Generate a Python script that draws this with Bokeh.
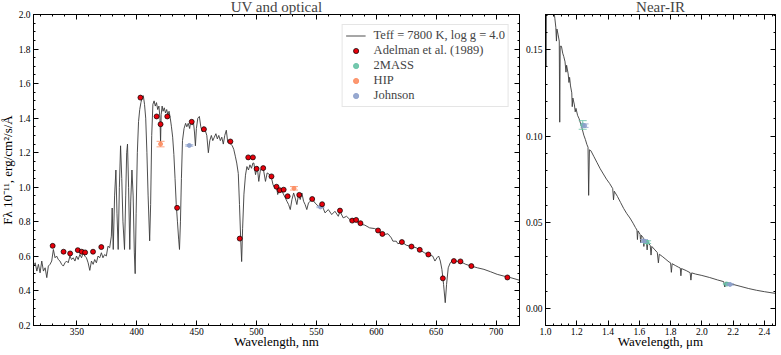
from math import pi
import numpy as np
from bokeh.plotting import figure
from bokeh.layouts import row
from bokeh.models import (LinearAxis, FixedTicker, PrintfTickFormatter, Range1d,
                          Legend, LegendItem, ColumnDataSource, CustomJSTickFormatter)
from bokeh.embed import file_html
from bokeh.resources import INLINE

FONT = "Liberation Serif"
LINE = "#3a3a3a"
C_2MASS = "#66c2a5"
C_HIP = "#fc8d62"
C_JOHN = "#8da0cb"
C_ADEL = "#e8000b"

# ---------------- data ----------------
opt_wl = [313.8, 315.2, 316.6, 317.9, 319.3, 320.7, 322.1, 323.5, 324.9, 326.2, 327.6, 329.0,
          330.4, 331.8, 333.1, 334.5, 335.9, 337.3, 338.7, 340.1, 341.4, 342.8, 344.2, 345.6,
          347.0, 348.4, 349.7, 351.1, 352.5, 353.9, 355.3, 356.6, 358.0, 359.4, 360.8, 362.2,
          363.6, 364.9, 366.3, 367.7, 369.1, 370.5, 371.8, 373.2, 374.6, 376.0, 377.4, 378.8,
          379.5, 380.4, 381.5, 382.6, 383.5, 384.5, 385.5, 386.5, 387.5, 388.5, 389.8, 390.8,
          391.6, 392.3, 393.2, 394.2, 395.0, 396.0, 397.0, 398.0, 398.7, 399.5, 400.5, 401.5,
          402.5, 403.5, 404.5, 405.5, 406.5, 407.5, 408.5, 409.5, 410.8, 411.6, 412.5, 413.5,
          414.5, 415.5, 416.5, 417.5, 418.5, 419.4, 419.9, 420.4, 421.2, 422.0, 423.0, 424.0,
          425.0, 426.0, 427.0, 428.0, 429.0, 430.0, 431.0, 432.0, 433.0, 434.0, 435.0, 435.7,
          436.5, 437.3, 438.2, 439.5, 440.8, 441.8, 443.0, 444.2, 445.0, 446.3, 447.3, 448.2,
          449.0, 449.8, 451.0, 452.3, 453.5, 454.8, 456.0, 457.2, 458.5, 459.8, 461.0, 462.3,
          463.5, 464.8, 466.1, 467.3, 468.5, 469.8, 471.0, 472.3, 473.5, 474.8, 476.0, 477.2,
          478.5, 479.8, 481.0, 482.3, 483.5, 484.8, 485.8, 486.8, 487.6, 488.4, 489.5, 490.8,
          492.0, 493.3, 494.5, 495.8, 497.0, 497.8, 499.2, 500.6, 501.9, 503.3, 505.5, 507.5,
          508.9, 511.1, 512.4, 513.8, 515.2, 516.6, 517.7, 519.4, 521.3, 524.1, 525.4, 526.8,
          528.2, 529.6, 531.0, 532.3, 533.7, 535.1, 536.5, 537.9, 539.3, 540.6, 542.0, 543.4,
          544.8, 546.4, 548.9, 551.7, 554.5, 557.2, 560.0, 562.8, 565.5, 568.3, 569.7, 572.4,
          575.2, 578.0, 579.9, 583.5, 586.2, 590.4, 594.5, 598.7, 601.5, 604.2, 607.0, 609.8,
          612.6, 613.9, 616.7, 618.1, 621.4, 625.0, 629.4, 633.3, 636.3, 640.2, 643.5, 647.1,
          649.0, 650.7, 652.1, 653.5, 654.8, 656.2, 657.6, 658.7, 660.1, 661.8, 663.7, 666.5,
          670.6, 674.7, 679.4, 684.4, 689.9, 695.5, 701.0, 706.5, 712.1, 719.6]
opt_flux = [0.544, 0.563, 0.515, 0.554, 0.505, 0.573, 0.515, 0.534, 0.477, 0.544, 0.554, 0.573,
            0.640, 0.592, 0.602, 0.582, 0.573, 0.554, 0.544, 0.563, 0.573, 0.563, 0.602, 0.582,
            0.592, 0.573, 0.602, 0.582, 0.611, 0.592, 0.621, 0.602, 0.592, 0.563, 0.519, 0.573,
            0.554, 0.582, 0.563, 0.602, 0.592, 0.621, 0.592, 0.611, 0.602, 0.659, 0.650, 0.717,
            0.88, 0.64, 0.95, 1.10, 0.85, 0.64, 1.00, 1.24, 1.05, 0.80, 0.64, 0.95,
            1.20, 1.25, 1.00, 0.64, 0.92, 1.10, 0.95, 0.62, 0.50, 0.85, 1.20, 1.38,
            1.45, 1.49, 1.52, 1.53, 1.48, 1.40, 1.20, 0.95, 0.69, 0.90, 1.30, 1.48,
            1.50, 1.47, 1.49, 1.45, 1.47, 1.40, 1.26, 1.42, 1.47, 1.44, 1.46, 1.43,
            1.45, 1.42, 1.44, 1.40, 1.35, 1.29, 1.19, 1.05, 0.90, 0.80, 0.70, 0.64,
            0.80, 1.05, 1.27, 1.34, 1.37, 1.35, 1.37, 1.34, 1.38, 1.36, 1.38, 1.32,
            1.24, 1.34, 1.40, 1.41, 1.35, 1.32, 1.35, 1.33, 1.30, 1.20, 1.27, 1.30,
            1.27, 1.29, 1.31, 1.28, 1.30, 1.27, 1.29, 1.25, 1.30, 1.33, 1.26, 1.27,
            1.25, 1.24, 1.22, 1.18, 1.14, 1.08, 0.90, 0.70, 0.57, 0.76, 0.96, 1.07,
            1.12, 1.10, 1.13, 1.11, 1.14, 1.14, 1.073, 1.121, 1.034, 1.102, 1.115, 1.034,
            1.083, 1.073, 1.058, 1.015, 0.996, 1.006, 0.958, 0.996, 0.977, 0.938, 0.919, 0.900,
            0.871, 0.929, 0.967, 0.938, 0.900, 0.958, 0.929, 0.967, 0.919, 0.900, 0.871, 0.909,
            0.919, 0.933, 0.909, 0.890, 0.900, 0.852, 0.871, 0.842, 0.861, 0.832, 0.861, 0.823,
            0.832, 0.813, 0.807, 0.804, 0.788, 0.781, 0.765, 0.761, 0.750, 0.736, 0.727, 0.731,
            0.707, 0.688, 0.688, 0.673, 0.683, 0.665, 0.657, 0.650, 0.638, 0.621, 0.611, 0.602,
            0.573, 0.592, 0.602, 0.573, 0.525, 0.438, 0.332, 0.438, 0.534, 0.563, 0.577, 0.573,
            0.569, 0.554, 0.544, 0.534, 0.525, 0.511, 0.496, 0.486, 0.477, 0.462]

ir_wl = [1.000, 1.003, 1.006, 1.050, 1.060, 1.066, 1.070, 1.073, 1.080, 1.088, 1.091, 1.094,
         1.102, 1.110, 1.117, 1.125, 1.131, 1.135, 1.145, 1.150, 1.154, 1.160, 1.168, 1.171,
         1.175, 1.185, 1.190, 1.195, 1.205, 1.215, 1.225, 1.235, 1.245, 1.255, 1.265, 1.272,
         1.276, 1.281, 1.290, 1.310, 1.330, 1.350, 1.370, 1.390, 1.410, 1.430, 1.435, 1.440,
         1.460, 1.480, 1.500, 1.520, 1.540, 1.560, 1.575, 1.585, 1.588, 1.592, 1.605, 1.609,
         1.613, 1.625, 1.629, 1.633, 1.645, 1.650, 1.655, 1.670, 1.675, 1.680, 1.700, 1.715,
         1.722, 1.728, 1.750, 1.770, 1.790, 1.800, 1.805, 1.810, 1.830, 1.850, 1.862, 1.866,
         1.870, 1.900, 1.925, 1.930, 1.935, 1.960, 2.000, 2.050, 2.100, 2.140, 2.147, 2.152,
         2.200, 2.250, 2.300, 2.350, 2.400, 2.471]
ir_flux = [0.178, 0.140, 0.178, 0.175, 0.168, 0.163, 0.155, 0.162, 0.159, 0.155, 0.108, 0.152,
           0.152, 0.148, 0.146, 0.143, 0.137, 0.141, 0.136, 0.131, 0.134, 0.129, 0.125, 0.117,
           0.122, 0.118, 0.114, 0.116, 0.112, 0.110, 0.107, 0.104, 0.1005, 0.098, 0.095, 0.0935,
           0.0656, 0.092, 0.0915, 0.088, 0.0845, 0.081, 0.078, 0.075, 0.0725, 0.0695, 0.063, 0.068,
           0.065, 0.0615, 0.058, 0.055, 0.0525, 0.0495, 0.047, 0.0455, 0.040, 0.045, 0.043, 0.038,
           0.0425, 0.041, 0.036, 0.040, 0.039, 0.034, 0.0385, 0.0365, 0.031, 0.036, 0.034, 0.0325,
           0.0265, 0.0315, 0.030, 0.0285, 0.027, 0.0265, 0.021, 0.026, 0.025, 0.024, 0.0235, 0.019,
           0.0232, 0.022, 0.0208, 0.0165, 0.0207, 0.0200, 0.0192, 0.0180, 0.0166, 0.0156, 0.0125, 0.0153,
           0.0140, 0.0128, 0.0116, 0.0106, 0.0098, 0.0088]

adelman_wl = [329.8, 338.9, 344.4, 350.8, 354.1, 356.9, 363.5, 370.4, 403.1, 416.6, 419.9, 425.5,
              433.7, 445.9, 456.1, 478.2, 486.0, 493.1, 497.0, 500.1, 505.6, 512.5, 516.7, 519.4,
              522.7, 526.0, 535.7, 546.5, 554.8, 569.7, 579.9, 583.2, 586.8, 601.5, 605.1, 621.4,
              629.4, 636.3, 643.5, 655.6, 664.8, 670.3, 679.4, 709.5]
adelman_flux = [0.661, 0.627, 0.617, 0.636, 0.627, 0.623, 0.627, 0.654, 1.519, 1.410, 1.365, 1.410,
                0.881, 1.379, 1.336, 1.265, 0.703, 1.173, 1.173, 1.107, 1.111, 1.063, 1.003, 0.983,
                0.986, 0.948, 0.956, 0.932, 0.902, 0.865, 0.807, 0.811, 0.792, 0.750, 0.730, 0.683,
                0.657, 0.638, 0.611, 0.473, 0.573, 0.571, 0.544, 0.478]

hip_wl = [419.9, 531.3]
hip_flux = [1.250, 0.994]
hip_err = [0.016, 0.010]

john_opt_wl = [443.9, 553.4]
john_opt_flux = [1.242, 0.886]
john_opt_err = [0.004, 0.004]

tmass_wl = [1.238, 1.650, 2.160]
tmass_flux = [0.1064, 0.0385, 0.0142]
tmass_err = [0.0025, 0.0008, 0.0004]

john_ir_wl = [1.250, 1.630, 2.180]
john_ir_flux = [0.1060, 0.0392, 0.0140]
john_ir_err = [0.0010, 0.0008, 0.0004]

opt_xticks = [350, 400, 450, 500, 550, 600, 650, 700]
opt_yticks = [0.2, 0.4, 0.6, 0.8, 1.0, 1.2, 1.4, 1.6, 1.8, 2.0]
ir_xticks = [1.0, 1.2, 1.4, 1.6, 1.8, 2.0, 2.2, 2.4]
ir_yticks = [0.0, 0.05, 0.10, 0.15]

opt_xminor = list(range(320, 720, 10))
opt_yminor = [round(v, 3) for v in np.arange(0.2, 2.0001, 0.05)]
ir_xminor = [round(v, 3) for v in np.arange(1.0, 2.5, 0.05)]
ir_yminor = [round(v, 3) for v in np.arange(-0.01, 0.1701, 0.01)]


# ---------------- helpers ----------------
def make_fig(width, xr, yr, left, right, title):
    p = figure(width=width, height=355, x_range=Range1d(*xr), y_range=Range1d(*yr),
               output_backend="svg", toolbar_location=None, title=title,
               min_border_left=left, min_border_right=right,
               min_border_top=17, min_border_bottom=26)
    p.title.text_font = FONT
    p.title.text_font_size = "15px"
    p.title.text_font_style = "normal"
    p.title.align = "center"
    p.title.standoff = 0
    p.title.offset = 0
    p.xgrid.visible = False
    p.ygrid.visible = False
    p.outline_line_color = "black"
    p.background_fill_color = "white"
    p.border_fill_color = "white"
    return p


def style(p, xt, xminor, yt, yminor, xfmt, yfmt, xlabel, ylabel=None):
    bottom = p.below[0]
    left = p.left[0]
    bottom.ticker = FixedTicker(ticks=xt, minor_ticks=xminor)
    left.ticker = FixedTicker(ticks=yt, minor_ticks=yminor)
    bottom.formatter = PrintfTickFormatter(format=xfmt)
    left.formatter = PrintfTickFormatter(format=yfmt)
    blank = "return ''"
    p.add_layout(LinearAxis(ticker=FixedTicker(ticks=xt, minor_ticks=xminor),
                            formatter=CustomJSTickFormatter(code=blank),
                            major_label_text_font_size="1px", major_label_standoff=0), "above")
    p.add_layout(LinearAxis(ticker=FixedTicker(ticks=yt, minor_ticks=yminor),
                            formatter=CustomJSTickFormatter(code=blank),
                            major_label_text_font_size="1px", major_label_standoff=0), "right")
    for ax in p.axis:
        ax.axis_line_color = "black"
        ax.axis_line_width = 1
        ax.major_tick_in = 5
        ax.major_tick_out = 0
        ax.minor_tick_in = 2
        ax.minor_tick_out = 0
        ax.major_tick_line_color = "black"
        ax.minor_tick_line_color = "black"
        ax.major_label_text_font = FONT
        ax.major_label_text_color = "black"
    for ax in (bottom, left):
        ax.major_label_text_font_size = "9.5px"
        ax.axis_label_text_font = FONT
        ax.axis_label_text_font_size = "13px"
        ax.axis_label_text_font_style = "normal"
        ax.axis_label_text_color = "black"
        ax.axis_label_text_line_height = 0.8
        ax.major_label_text_line_height = 0.8
    bottom.major_label_standoff = 2
    bottom.axis_label_standoff = -4
    left.major_label_standoff = 3
    bottom.axis_label = xlabel
    if ylabel:
        left.axis_label = ylabel
        left.axis_label_standoff = 1


def errorbars(p, x, y, err, color):
    lo = [a - e for a, e in zip(y, err)]
    hi = [a + e for a, e in zip(y, err)]
    src = ColumnDataSource(dict(x=x, y=y, lo=lo, hi=hi))
    p.segment(x0="x", y0="lo", x1="x", y1="hi", source=src,
              line_color=color, line_width=1, line_alpha=0.8)
    for key in ("lo", "hi"):
        p.scatter(x="x", y=key, source=src, marker="dash", size=8,
                  line_color=color, line_width=1, line_alpha=0.8)
    return p.scatter(x="x", y="y", source=src, marker="circle", size=4,
                     fill_color=color, line_color=color, alpha=0.9)


# ---------------- left panel ----------------
p1 = make_fig(526, (313.8, 719.6), (0.2, 2.0), 33, 3, "UV and optical")
style(p1, opt_xticks, opt_xminor, opt_yticks, opt_yminor, "%d", "%.1f",
      "Wavelength, nm", "Fλ 10⁻¹¹, erg/cm²/s/Å")

spec1 = p1.line(opt_wl, opt_flux, line_color=LINE, line_width=0.9)
hip_r = errorbars(p1, hip_wl, hip_flux, hip_err, C_HIP)
john_r = errorbars(p1, john_opt_wl, john_opt_flux, john_opt_err, C_JOHN)
adel_r = p1.scatter(adelman_wl, adelman_flux, marker="circle", size=5,
                    fill_color=C_ADEL, line_color="black", line_width=0.7)
# 2MASS photometry lies in the near-IR (outside this panel's range); used for the legend entry
tmass_r1 = p1.scatter(tmass_wl, tmass_flux, marker="circle", size=4,
                      fill_color=C_2MASS, line_color=C_2MASS, alpha=0.9)

legend = Legend(items=[
    LegendItem(label="Teff = 7800 K, log g = 4.0", renderers=[spec1]),
    LegendItem(label="Adelman et al. (1989)", renderers=[adel_r]),
    LegendItem(label="2MASS", renderers=[tmass_r1]),
    LegendItem(label="HIP", renderers=[hip_r]),
    LegendItem(label="Johnson", renderers=[john_r]),
], location="top_right", margin=10, padding=3, spacing=0,
   glyph_width=20, glyph_height=13, label_height=13, label_width=20,
   label_standoff=8, label_text_font=FONT, label_text_font_size="12.5px",
   border_line_color="#cccccc", border_line_width=1,
   background_fill_color="white", background_fill_alpha=0.85)
p1.add_layout(legend)

# ---------------- right panel ----------------
p2 = make_fig(254, (1.0, 2.471), (-0.0098, 0.1704), 22, 1, "Near-IR")
style(p2, ir_xticks, ir_xminor, ir_yticks, ir_yminor, "%.1f", "%.2f",
      "Wavelength, μm")

p2.line(ir_wl, ir_flux, line_color=LINE, line_width=0.9)
errorbars(p2, tmass_wl, tmass_flux, tmass_err, C_2MASS)
errorbars(p2, john_ir_wl, john_ir_flux, john_ir_err, C_JOHN)

layout = row(p1, p2, margin=(-4, 0, -4, -4))

open("out.html", "w").write(file_html(layout, INLINE))
